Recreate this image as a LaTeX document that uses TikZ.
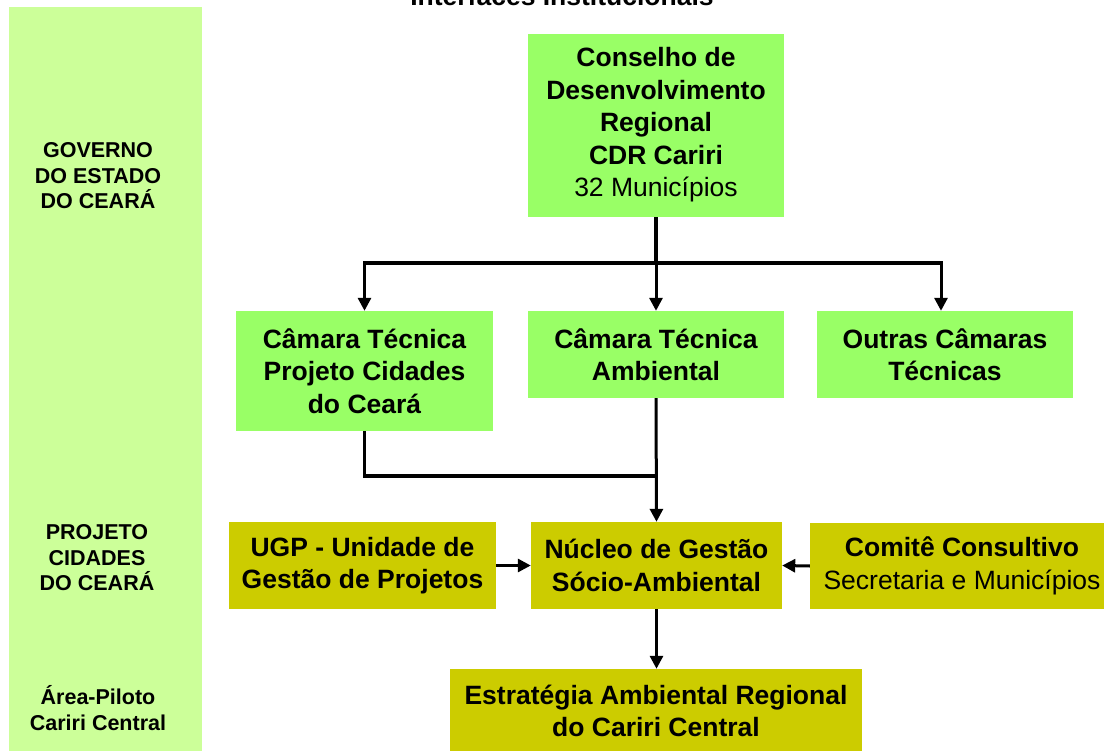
\documentclass[tikz,border=0pt]{standalone}
\usepackage{fontspec}
\setmainfont{Liberation Sans}
\usetikzlibrary{arrows.meta}
\definecolor{panelgreen}{HTML}{CCFF99}
\definecolor{boxgreen}{HTML}{99FF66}
\definecolor{boxolive}{HTML}{CCCC00}
\begin{document}
\begin{tikzpicture}[x=1pt,y=-1pt,
  box/.style={rectangle, inner sep=0pt, align=center, text=black,
    font=\bfseries\fontsize{26.5}{32.5}\selectfont},
  gbox/.style={box, fill=boxgreen},
  obox/.style={box, fill=boxolive},
  sidelabel/.style={align=center, font=\bfseries\fontsize{21.5}{25.5}\selectfont},
  conn/.style={line width=3.6pt, black},
  arr/.style={line width=3pt, black, -{Triangle[length=13pt,width=13pt]}}]
\useasboundingbox (0,0) rectangle (1104,751);
\clip (0,0) rectangle (1104,751);
% left panel
\fill[panelgreen] (9,7) rectangle (202,760);
\node[sidelabel] (gov) at (98,176) {GOVERNO\\DO ESTADO\\DO CEARÁ};
\node[sidelabel] (proj) at (97,558) {PROJETO\\CIDADES\\DO CEARÁ};
\node[sidelabel] (area) at (98,708) {Área-Piloto\\Cariri Central};
% title (cut off at top)
\node[anchor=base, font=\bfseries\fontsize{26.5}{32.5}\selectfont] (title) at (562,6) {Interfaces Institucionais};
% boxes
\node[gbox, minimum width=256pt, minimum height=183pt] (cdr) at (656,125.5)
  {\raisebox{-3pt}{\begin{tabular}{@{}c@{}}Conselho de\\Desenvolvimento\\Regional\\CDR Cariri\\{\mdseries 32 Municípios}\end{tabular}}};
\node[gbox, minimum width=257pt, minimum height=120pt] (ct1) at (364.5,371) {Câmara Técnica\\Projeto Cidades\\do Ceará};
\node[gbox, minimum width=256pt, minimum height=87pt] (ct2) at (656,354.5) {Câmara Técnica\\Ambiental};
\node[gbox, minimum width=256pt, minimum height=87pt] (ct3) at (945,354.5) {Outras Câmaras\\Técnicas};
\node[obox, minimum width=251pt, minimum height=87pt] (nuc) at (656.5,565.5) {Núcleo de Gestão\\Sócio-Ambiental};
\node[obox, minimum width=267pt, minimum height=87pt] (ugp) at (362.5,565.5) {UGP - Unidade de\\Gestão de Projetos};
\node[obox, minimum width=304pt, minimum height=86pt] (com) at (962,566) {Comitê Consultivo\\{\mdseries Secretaria e Municípios}};
\node[obox, minimum width=412pt, minimum height=84pt] (est) at (656,711) {Estratégia Ambiental Regional\\do Cariri Central};
% connectors
\coordinate (split) at (656,263);
\coordinate (merge) at (656,476);
\draw[conn] (cdr.south) -- (split);
\draw[conn] (364.5,263) -- (941,263);
\draw[arr] (364.5,261.2) -- (ct1.north);
\draw[arr] (split) -- (ct2.north);
\draw[arr] (941,261.2) -- ([xshift=-4pt]ct3.north);
\draw[conn] (ct1.south) |- (merge);
\draw[arr] (ct2.south) -- (nuc.north);
\draw[arr] (ugp.east) -- (nuc.west);
\draw[arr] (com.west) -- (nuc.east);
\draw[arr] (nuc.south) -- (nuc.south |- est.north);
\end{tikzpicture}
\end{document}
